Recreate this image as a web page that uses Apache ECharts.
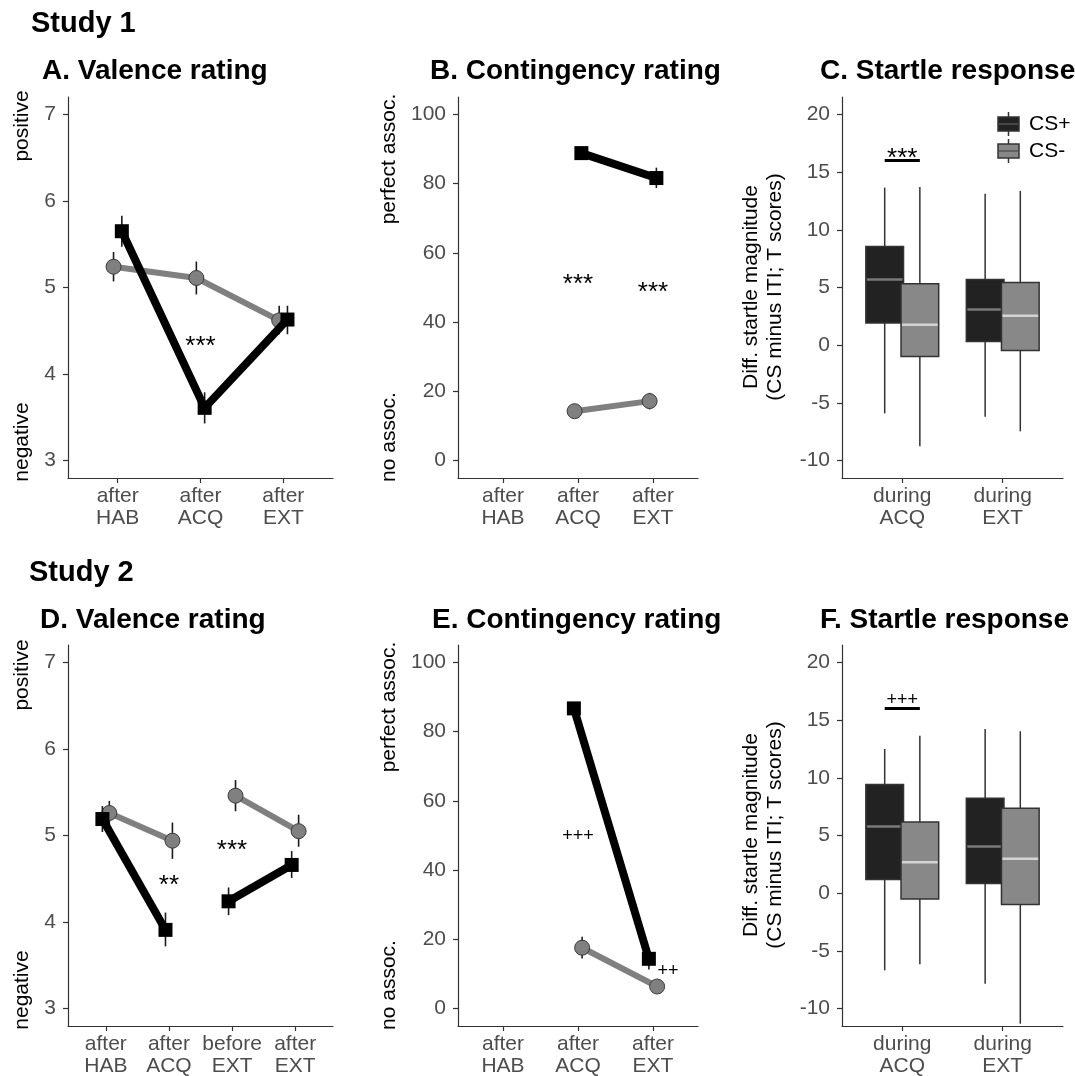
<!DOCTYPE html>
<html><head><meta charset="utf-8">
<script src="https://cdn.jsdelivr.net/npm/echarts@6/dist/echarts.min.js"></script>
<style>html,body{margin:0;padding:0;background:#fff}#c{width:1075px;height:1076px}</style>
</head><body><div id="c"></div>
<script>
// ---------------- DATA ----------------
const catsStudy1Rating = ['after\nHAB', 'after\nACQ', 'after\nEXT'];
const catsStudy2Valence = ['after\nHAB', 'after\nACQ', 'before\nEXT', 'after\nEXT'];
const catsStartle = ['during\nACQ', 'during\nEXT'];

const valenceTicks = [3, 4, 5, 6, 7];
const contTicks = [0, 20, 40, 60, 80, 100];
const startleTicks = [-10, -5, 0, 5, 10, 15, 20];

// Study 1 valence (mean, lower, upper)
const val1Plus = [5.65, 3.61, 4.63];
const val1PlusLo = [5.47, 3.43, 4.46];
const val1PlusHi = [5.83, 3.79, 4.79];
const val1Minus = [5.24, 5.11, 4.62];
const val1MinusLo = [5.07, 4.92, 4.46];
const val1MinusHi = [5.41, 5.30, 4.79];

// Study 1 contingency
const con1Plus = [null, 88.8, 81.6];
const con1PlusLo = [null, 87.8, 78.7];
const con1PlusHi = [null, 89.8, 84.6];
const con1Minus = [null, 14.3, 17.2];
const con1MinusLo = [null, 12.6, 14.8];
const con1MinusHi = [null, 16.2, 19.6];

// Study 2 valence
const val2Plus = [5.19, 3.91, 4.24, 4.66];
const val2PlusLo = [5.04, 3.72, 4.08, 4.51];
const val2PlusHi = [5.34, 4.11, 4.40, 4.82];
const val2Minus = [5.26, 4.94, 5.46, 5.05];
const val2MinusLo = [5.12, 4.73, 5.28, 4.87];
const val2MinusHi = [5.40, 5.15, 5.64, 5.24];

// Study 2 contingency
const con2Plus = [null, 86.7, 14.4];
const con2PlusLo = [null, 85.2, 11.3];
const con2PlusHi = [null, 88.2, 17.3];
const con2Minus = [null, 17.6, 6.4];
const con2MinusLo = [null, 14.5, 4.9];
const con2MinusHi = [null, 20.8, 7.9];

// Startle boxplots: [lower whisker, Q1, median, Q3, upper whisker]
const st1Plus = [[-5.90, 1.92, 5.69, 8.55, 13.65], [-6.19, 0.33, 3.10, 5.69, 13.13]];
const st1Minus = [[-8.76, -0.97, 1.77, 5.32, 13.71], [-7.46, -0.45, 2.55, 5.43, 13.37]];
const st2Plus = [[-6.68, 1.19, 5.78, 9.41, 12.50], [-7.83, 0.85, 4.05, 8.23, 14.23]];
const st2Minus = [[-6.16, -0.51, 2.69, 6.16, 13.65], [-11.30, -0.97, 2.98, 7.37, 14.03]];

// significance annotations [x, y, label]
const annA = [[2, 4.40, '***']];
const annB = [[2, 52.9, '***'], [3, 50.5, '***']];
const annC = [[1, 16.75, '***']];
const annD = [[2, 4.50, '**'], [3, 4.90, '***']];
const annE = [[2, 49.8, '+++'], [3.2, 10.8, '++']];
const annF = [[1, 16.75, '+++']];
const sigBarC = [[0.825, 1.175, 16.0]];
const sigBarF = [[0.825, 1.175, 16.0]];

// ---------------- CHART ----------------
const FONT = '"Liberation Sans", Arial, Helvetica, sans-serif';
const chart = echarts.init(document.getElementById('c'), null, { renderer: 'canvas' });

const gridRects = [
  [68, 97, 265, 381], [458, 97, 240, 381], [842, 97, 221, 381],
  [68, 645, 265, 381], [458, 645, 240, 381], [842, 645, 221, 381]
];
const xRanges = [[0.4, 3.6], [0.4, 3.6], [0.4, 2.6], [0.4, 4.6], [0.4, 3.6], [0.4, 2.6]];
const xCats = [catsStudy1Rating, catsStudy1Rating, catsStartle, catsStudy2Valence, catsStudy1Rating, catsStartle];
const yRanges = [[2.8, 7.2], [-5, 105], [-11.5, 21.5], [2.8, 7.2], [-5, 105], [-11.5, 21.5]];
const yTicks = [valenceTicks, contTicks, startleTicks, valenceTicks, contTicks, startleTicks];

const grids = [], xAxes = [], yAxes = [], series = [];
const axisColor = '#333333', labelColor = '#4d4d4d';
for (let i = 0; i < 6; i++) {
  const r = gridRects[i];
  grids.push({ left: r[0], top: r[1], width: r[2], height: r[3], containLabel: false, outerBoundsMode: 'none' });
  const cats = xCats[i];
  const xv = cats.map((c, k) => k + 1);
  xAxes.push({
    type: 'value', gridIndex: i, min: xRanges[i][0], max: xRanges[i][1],
    splitLine: { show: false },
    axisLine: { show: true, onZero: false, lineStyle: { color: axisColor, width: 1.2 } },
    axisTick: { show: true, length: 5, customValues: xv, lineStyle: { color: axisColor, width: 1.2 } },
    axisLabel: {
      show: true, customValues: xv, margin: 7,
      formatter: (v) => cats[Math.round(v) - 1] || '',
      fontFamily: FONT, fontSize: 21, lineHeight: 22, color: labelColor
    }
  });
  const yt = yTicks[i];
  yAxes.push({
    type: 'value', gridIndex: i, min: yRanges[i][0], max: yRanges[i][1],
    splitLine: { show: false },
    axisLine: { show: true, onZero: false, lineStyle: { color: axisColor, width: 1.2 } },
    axisTick: { show: true, length: 5, customValues: yt, lineStyle: { color: axisColor, width: 1.2 } },
    axisLabel: { show: true, customValues: yt, margin: 12, fontFamily: FONT, fontSize: 21, color: labelColor }
  });
}

function errSeries(i, pts, z) {
  return {
    type: 'custom', xAxisIndex: i, yAxisIndex: i, z: z, data: pts, silent: true, animation: false,
    encode: { x: 0, y: [1, 2] },
    renderItem: (p, api) => {
      const a = api.coord([api.value(0), api.value(1)]);
      const b = api.coord([api.value(0), api.value(2)]);
      return { type: 'line', shape: { x1: a[0], y1: a[1], x2: b[0], y2: b[1] }, style: { stroke: '#1a1a1a', lineWidth: 1.6 } };
    }
  };
}
function lineSeries(i, pts, black, z) {
  return {
    type: 'line', xAxisIndex: i, yAxisIndex: i, z: z, data: pts, silent: true, animation: false,
    symbol: black ? 'rect' : 'circle', symbolSize: black ? 14 : 15, showSymbol: true,
    lineStyle: { color: black ? '#000000' : '#808080', width: black ? 8 : 6 },
    itemStyle: { color: black ? '#000000' : '#808080', borderColor: black ? '#000000' : '#3a3a3a', borderWidth: black ? 0 : 1 },
    emphasis: { disabled: true }
  };
}
function linePanel(i, plus, plusLo, plusHi, minus, minusLo, minusHi, segs, dPlus) {
  const errM = [], errP = [];
  minus.forEach((v, k) => { if (v != null) errM.push([k + 1 - dPlus, minusLo[k], minusHi[k]]); });
  plus.forEach((v, k) => { if (v != null) errP.push([k + 1 + dPlus, plusLo[k], plusHi[k]]); });
  series.push(errSeries(i, errM, 2));
  segs.forEach(s => {
    const pts = [];
    for (let k = s[0]; k <= s[1]; k++) if (minus[k] != null) pts.push([k + 1 - dPlus, minus[k]]);
    series.push(lineSeries(i, pts, false, 3));
  });
  series.push(errSeries(i, errP, 4));
  segs.forEach(s => {
    const pts = [];
    for (let k = s[0]; k <= s[1]; k++) if (plus[k] != null) pts.push([k + 1 + dPlus, plus[k]]);
    series.push(lineSeries(i, pts, true, 5));
  });
}
function textSeries(i, items) {
  series.push({
    type: 'custom', xAxisIndex: i, yAxisIndex: i, z: 6, silent: true, animation: false,
    data: items.map(d => [d[0], d[1]]), encode: { x: 0, y: 1 },
    renderItem: (p, api) => {
      const lab = items[p.dataIndex][2];
      const c = api.coord([api.value(0), api.value(1)]);
      const star = lab.indexOf('*') >= 0;
      return {
        type: 'text', x: c[0], y: c[1] + (star ? 7 : 0),
        style: { text: lab, font: (star ? '26px ' : '18px ') + FONT, fill: '#000', align: 'center', verticalAlign: 'middle' }
      };
    }
  });
}
function boxSeries(i, rows, offset, fill, medColor) {
  series.push({
    type: 'custom', xAxisIndex: i, yAxisIndex: i, z: 3, silent: true, animation: false,
    data: rows.map((r, k) => [k + 1 + offset].concat(r)), encode: { x: 0, y: [1, 2, 3, 4, 5] },
    renderItem: (p, api) => {
      const x = api.value(0);
      const hw = api.size([0.375, 0])[0] / 2;
      const lo = api.coord([x, api.value(1)]), q1 = api.coord([x, api.value(2)]), md = api.coord([x, api.value(3)]),
        q3 = api.coord([x, api.value(4)]), hi = api.coord([x, api.value(5)]);
      return {
        type: 'group', children: [
          { type: 'line', shape: { x1: lo[0], y1: lo[1], x2: q1[0], y2: q1[1] }, style: { stroke: '#333', lineWidth: 1.5 } },
          { type: 'line', shape: { x1: q3[0], y1: q3[1], x2: hi[0], y2: hi[1] }, style: { stroke: '#333', lineWidth: 1.5 } },
          { type: 'rect', shape: { x: q3[0] - hw, y: q3[1], width: 2 * hw, height: q1[1] - q3[1] }, style: { fill: fill, stroke: '#333', lineWidth: 1.5 } },
          { type: 'line', shape: { x1: md[0] - hw + 1, y1: md[1], x2: md[0] + hw - 1, y2: md[1] }, style: { stroke: medColor, lineWidth: 2.5 } }
        ]
      };
    }
  });
}
function sigBarSeries(i, bars) {
  series.push({
    type: 'custom', xAxisIndex: i, yAxisIndex: i, z: 6, silent: true, animation: false,
    data: bars, encode: { x: [0, 1], y: 2 },
    renderItem: (p, api) => {
      const a = api.coord([api.value(0), api.value(2)]), b = api.coord([api.value(1), api.value(2)]);
      return { type: 'line', shape: { x1: a[0], y1: a[1], x2: b[0], y2: b[1] }, style: { stroke: '#000', lineWidth: 3 } };
    }
  });
}

linePanel(0, val1Plus, val1PlusLo, val1PlusHi, val1Minus, val1MinusLo, val1MinusHi, [[0, 2]], 0.05);
textSeries(0, annA);
linePanel(1, con1Plus, con1PlusLo, con1PlusHi, con1Minus, con1MinusLo, con1MinusHi, [[1, 2]], 0.045);
textSeries(1, annB);
boxSeries(2, st1Plus, -0.175, '#222222', '#7a7a7a');
boxSeries(2, st1Minus, 0.175, '#888888', '#d4d4d4');
sigBarSeries(2, sigBarC);
textSeries(2, annC);
linePanel(3, val2Plus, val2PlusLo, val2PlusHi, val2Minus, val2MinusLo, val2MinusHi, [[0, 1], [2, 3]], -0.055);
textSeries(3, annD);
linePanel(4, con2Plus, con2PlusLo, con2PlusHi, con2Minus, con2MinusLo, con2MinusHi, [[1, 2]], -0.055);
textSeries(4, annE);
boxSeries(5, st2Plus, -0.175, '#222222', '#7a7a7a');
boxSeries(5, st2Minus, 0.175, '#888888', '#d4d4d4');
sigBarSeries(5, sigBarF);
textSeries(5, annF);

// ---------------- TEXT / LEGEND GRAPHICS ----------------
function txt(x, y, s, font, opts) {
  opts = opts || {};
  return {
    type: 'text', x: x, y: y, rotation: opts.rot || 0, silent: true,
    style: { text: s, font: font, fill: opts.fill || '#000', align: opts.align || 'left', verticalAlign: 'middle', lineHeight: opts.lh }
  };
}
const titleFont = 'bold 28px ' + FONT, studyFont = 'bold 29px ' + FONT, nameFont = '21px ' + FONT;
const R = Math.PI / 2;
const graphics = [
  txt(31, 24, 'Study 1', studyFont),
  txt(42, 71, 'A. Valence rating', titleFont),
  txt(430, 71, 'B. Contingency rating', titleFont),
  txt(820, 71, 'C. Startle response', titleFont),
  txt(29, 573, 'Study 2', studyFont),
  txt(40, 620, 'D. Valence rating', titleFont),
  txt(432, 620, 'E. Contingency rating', titleFont),
  txt(820, 620, 'F. Startle response', titleFont),
  txt(22, 126, 'positive', nameFont, { rot: R, align: 'center' }),
  txt(22, 442, 'negative', nameFont, { rot: R, align: 'center' }),
  txt(22, 675, 'positive', nameFont, { rot: R, align: 'center' }),
  txt(22, 990, 'negative', nameFont, { rot: R, align: 'center' }),
  txt(389, 159, 'perfect assoc.', nameFont, { rot: R, align: 'center' }),
  txt(389, 437, 'no assoc.', nameFont, { rot: R, align: 'center' }),
  txt(389, 707, 'perfect assoc.', nameFont, { rot: R, align: 'center' }),
  txt(389, 985, 'no assoc.', nameFont, { rot: R, align: 'center' }),
  txt(763, 287, 'Diff. startle magnitude\n(CS minus ITI; T scores)', nameFont, { rot: R, align: 'center', lh: 24 }),
  txt(763, 835, 'Diff. startle magnitude\n(CS minus ITI; T scores)', nameFont, { rot: R, align: 'center', lh: 24 })
];
// legend keys
const legendItems = [['CS+', '#222222', '#555555', 124], ['CS-', '#888888', '#555555', 151]];
legendItems.forEach(it => {
  const cy = it[3];
  graphics.push({ type: 'line', silent: true, shape: { x1: 1008.5, y1: cy - 12, x2: 1008.5, y2: cy + 12 }, style: { stroke: '#333', lineWidth: 1.5 } });
  graphics.push({ type: 'rect', silent: true, shape: { x: 998, y: cy - 7, width: 21, height: 14 }, style: { fill: it[1], stroke: '#333', lineWidth: 1.5 } });
  graphics.push({ type: 'line', silent: true, shape: { x1: 999, y1: cy, x2: 1018, y2: cy }, style: { stroke: it[2], lineWidth: 1.5 } });
  graphics.push(txt(1029, cy, it[0], nameFont));
});

chart.setOption({
  backgroundColor: '#ffffff',
  animation: false,
  grid: grids, xAxis: xAxes, yAxis: yAxes, series: series,
  graphic: { elements: graphics }
});
</script></body></html>
